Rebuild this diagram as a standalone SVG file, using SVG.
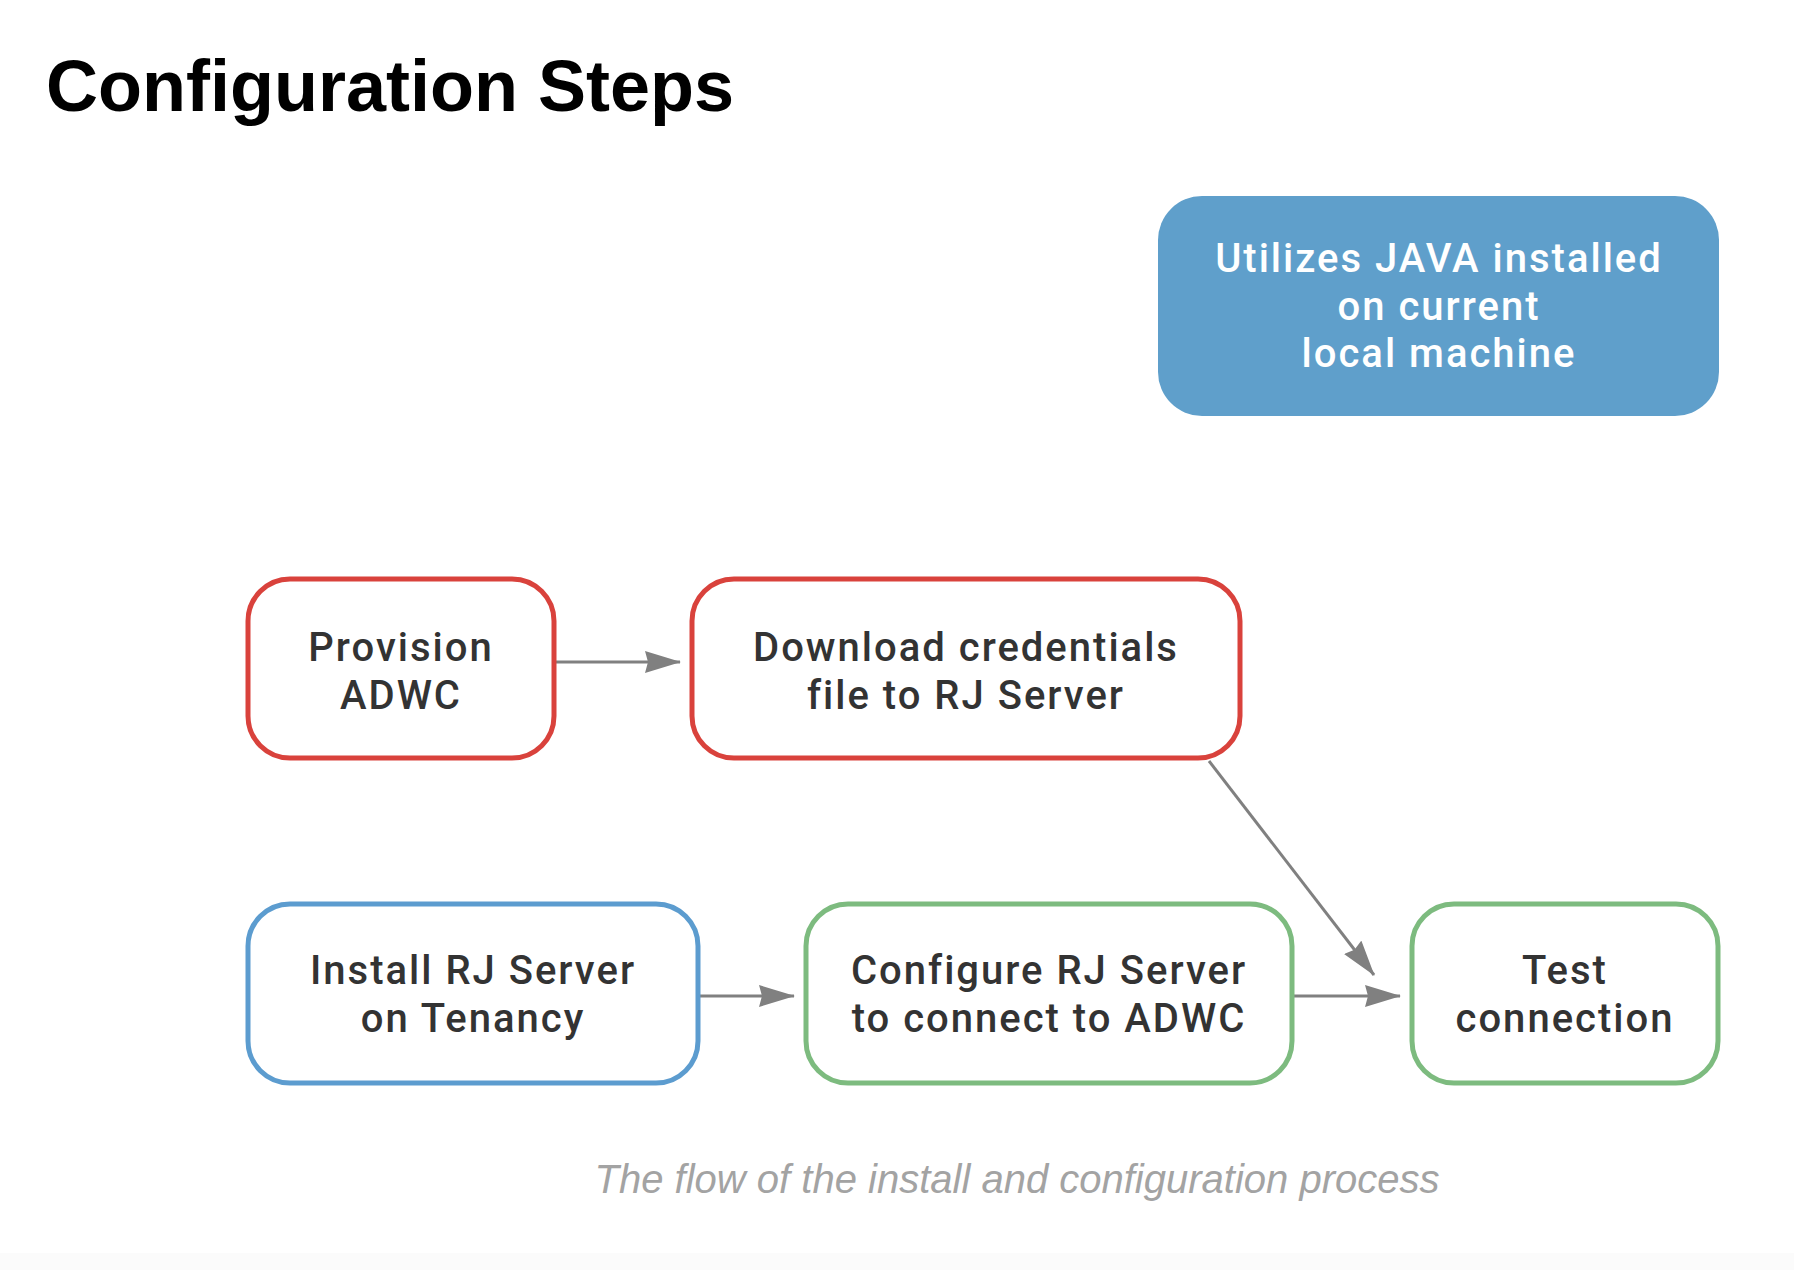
<svg xmlns="http://www.w3.org/2000/svg" width="1794" height="1270" viewBox="0 0 1794 1270">
<defs>
<style>
.node{fill:#fff;stroke-width:5}
.red{stroke:#d9423c}
.blue{stroke:#5c9ccf}
.green{stroke:#7dbb7f}
.lbl{font-family:Roboto,"Liberation Sans",sans-serif;font-weight:500;font-size:40px;letter-spacing:2px;fill:#333;text-anchor:middle}
.wlbl{fill:#fff}
.edge{stroke:#808080;stroke-width:3;fill:none}
</style>
<marker id="ah" viewBox="0 0 36 22" refX="35" refY="11" markerWidth="36" markerHeight="22" markerUnits="userSpaceOnUse" orient="auto">
<path d="M0,0 L36,11 L0,22 L3,11 z" fill="#808080"/>
</marker>
</defs>
<rect x="0" y="0" width="1794" height="1270" fill="#fff"/>
<rect x="0" y="1253" width="1794" height="17" fill="#fbfbfb"/>
<text x="46" y="111" font-family="'Liberation Sans',Arial,sans-serif" font-weight="bold" font-size="72" fill="#000">Configuration Steps</text>

<g id="connectors">
<line class="edge" x1="555" y1="662" x2="680" y2="662" marker-end="url(#ah)"/>
<line class="edge" x1="699" y1="996" x2="794" y2="996" marker-end="url(#ah)"/>
<line class="edge" x1="1293" y1="996" x2="1400" y2="996" marker-end="url(#ah)"/>
<line class="edge" x1="1209" y1="761" x2="1374" y2="975" marker-end="url(#ah)"/>
</g>

<g id="java">
<rect x="1158" y="196" width="561" height="220" rx="44" fill="#5f9fcb"/>
<text class="lbl wlbl" x="1439" y="272">Utilizes JAVA installed</text>
<text class="lbl wlbl" x="1439" y="320">on current</text>
<text class="lbl wlbl" x="1439" y="367">local machine</text>
</g>

<g id="provision">
<rect class="node red" x="248" y="579" width="306" height="179" rx="42"/>
<text class="lbl" x="401" y="661">Provision</text>
<text class="lbl" x="401" y="709">ADWC</text>
</g>

<g id="download">
<rect class="node red" x="692" y="579" width="548" height="179" rx="42"/>
<text class="lbl" x="966" y="661">Download credentials</text>
<text class="lbl" x="966" y="709">file to RJ Server</text>
</g>

<g id="install">
<rect class="node blue" x="248" y="904" width="450" height="179" rx="42"/>
<text class="lbl" x="473" y="984">Install RJ Server</text>
<text class="lbl" x="473" y="1032">on Tenancy</text>
</g>

<g id="configure">
<rect class="node green" x="806" y="904" width="486" height="179" rx="42"/>
<text class="lbl" x="1049" y="984">Configure RJ Server</text>
<text class="lbl" x="1049" y="1032">to connect to ADWC</text>
</g>

<g id="test">
<rect class="node green" x="1412" y="904" width="306" height="179" rx="42"/>
<text class="lbl" x="1565" y="984">Test</text>
<text class="lbl" x="1565" y="1032">connection</text>
</g>

<text x="1017" y="1193" font-family="'Liberation Sans',Arial,sans-serif" font-style="italic" font-size="40" fill="#a3a3a3" text-anchor="middle">The flow of the install and configuration process</text>
</svg>
